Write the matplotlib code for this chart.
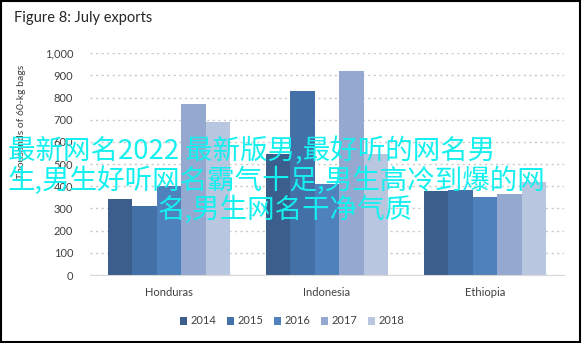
import numpy as np
import matplotlib
matplotlib.use("Agg")
from matplotlib import pyplot as plt
from matplotlib.patches import Rectangle

countries = ["Honduras", "Indonesia", "Ethiopia"]
years = ["2014", "2015", "2016", "2017", "2018"]
exports_2014 = [342, 547, 377]
exports_2015 = [311, 829, 383]
exports_2016 = [400, 410, 352]
exports_2017 = [770, 920, 365]
exports_2018 = [691, 547, 418]
y_ticks = [0, 100, 200, 300, 400, 500, 600, 700, 800, 900, 1000]
overlay_lines = [
    "最新网名2022 最新版男,最好听的网名男",
    "生,男生好听网名霸气十足,男生高冷到爆的网",
    "名,男生网名干净气质",
]

colors = ["#3B5E8C", "#4470A8", "#4F81BD", "#95A9D0", "#B9C6E0"]
series = [exports_2014, exports_2015, exports_2016, exports_2017, exports_2018]

plt.rcParams["font.family"] = ["Lato", "DejaVu Sans"]

fig = plt.figure(figsize=(5.82, 3.43), dpi=100)
ax = fig.add_axes([90 / 582, 68 / 343, 474 / 582, 221.7 / 343])

x = np.arange(len(countries))
bar_w = 122 / 158 / 5
for i, (vals, col, yr) in enumerate(zip(series, colors, years)):
    ax.bar(x + (i - 2) * bar_w, vals, width=bar_w, color=col, label=yr, zorder=3)

ax.set_xlim(-0.5, 2.5)
ax.set_ylim(0, 1000)
ax.set_yticks(y_ticks)
ax.set_yticklabels([f"{v:,}" for v in y_ticks], fontsize=8, color="#404040")
ax.set_xticks(x)
ax.set_xticklabels(countries, fontsize=8, color="#404040")
ax.tick_params(axis="both", length=0)
ax.tick_params(axis="y", pad=12)
ax.tick_params(axis="x", pad=9)
ax.grid(axis="y", color="#C8C8C8", linestyle=(0, (1.5, 2.5)), linewidth=1, zorder=0)
for s in ["top", "right", "left"]:
    ax.spines[s].set_visible(False)
ax.spines["bottom"].set_color("#D9D9D9")
ax.spines["bottom"].set_zorder(4)

fig.text(22 / 582, 1 - 122 / 343, "Thousands of 60-kg bags", rotation=90,
         ha="center", va="center", fontsize=7.5, color="#404040")
fig.text(14 / 582, 1 - 18 / 343, "Figure 8: July exports", ha="left", va="center",
         fontsize=10.5, color="#262626")

# legend sits centred on the whole figure, under the plot
fig.legend(*ax.get_legend_handles_labels(), loc="center",
           bbox_to_anchor=(292 / 582, 1 - 321 / 343), ncol=5, frameon=False,
           fontsize=8, handlelength=0.7, handleheight=0.7, handletextpad=0.3,
           columnspacing=0.9, labelcolor="#404040")

# scrolling headline text drawn over the chart
line_x = [8, 8, 158]
line_y = [151, 181, 210]
for txt, lx, ly in zip(overlay_lines, line_x, line_y):
    fig.text(lx / 582, 1 - ly / 343, txt, ha="left", va="center", fontsize=19.8,
             color="#14EFEF", family=["Noto Sans CJK SC", "DejaVu Sans"], zorder=10)

fig.patches.append(Rectangle((0.002, 0.004), 0.994, 0.992, transform=fig.transFigure,
                             fill=False, edgecolor="black", linewidth=1.5))

fig.savefig("out.png", dpi=100)
